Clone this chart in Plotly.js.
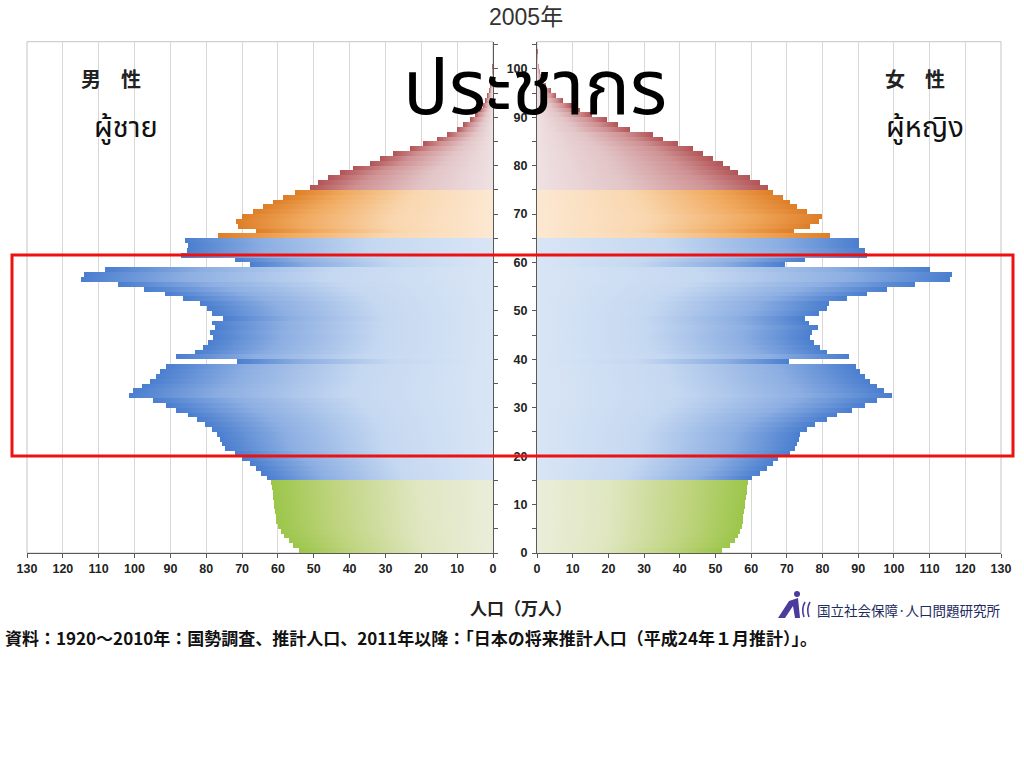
<!DOCTYPE html>
<html><head><meta charset="utf-8">
<script src="https://cdn.plot.ly/plotly-3.0.1.min.js"></script>
<style>html,body{margin:0;padding:0;background:#fff;overflow:hidden}#chart{width:1024px;height:768px}
#chart path.js-fill{shape-rendering:crispEdges}</style>
</head><body><div id="chart"></div>
<script>
// ---------- data (population, 10,000 persons, Japan 2005) ----------
const ages = [0,1,2,3,4,5,6,7,8,9,10,11,12,13,14,15,16,17,18,19,20,21,22,23,24,25,26,27,28,29,30,31,32,33,34,35,36,37,38,39,40,41,42,43,44,45,46,47,48,49,50,51,52,53,54,55,56,57,58,59,60,61,62,63,64,65,66,67,68,69,70,71,72,73,74,75,76,77,78,79,80,81,82,83,84,85,86,87,88,89,90,91,92,93,94,95,96,97,98,99,100,101,102,103,104,105];
const male = [54.0,55.8,57.0,58.3,59.2,60.0,60.4,60.6,60.8,61.0,61.1,61.3,61.5,61.6,61.8,
  63.0,64.6,66.0,67.8,70.1,72.0,74.8,75.5,76.2,77.1,78.5,80.4,82.7,85.0,88.3,
  91.1,94.8,101.5,100.4,98.0,95.7,93.9,92.9,91.1,71.5,88.5,83.2,80.9,79.5,78.1,
  79.0,77.6,78.5,75.3,78.5,79.9,81.8,86.5,91.5,97.3,104.6,114.8,114.2,108.3,67.8,
  72.0,87.0,85.5,85.0,86.0,76.7,66.0,71.1,71.6,70.1,66.9,64.1,61.3,58.5,55.3,
  51.1,48.8,46.0,42.7,39.0,34.3,31.5,27.8,23.2,19.5,15.7,12.9,10.1,8.3,6.4,
  5.0,3.8,2.9,2.2,1.6,1.1,0.8,0.5,0.35,0.2,0.15,0.1,0.05,0.03,0.02,0.01];
const female = [51.7,54.1,55.5,56.4,56.9,57.4,57.8,57.8,58.0,58.3,58.3,58.5,58.8,58.8,59.2,
  60.2,62.5,64.4,66.2,67.6,71.0,72.3,72.8,73.3,73.7,75.6,77.9,81.2,84.0,88.2,
  92.0,95.3,99.5,97.1,95.3,93.4,92.0,90.6,89.4,70.5,87.3,81.2,79.3,77.5,76.5,
  77.0,78.6,76.1,75.1,78.9,81.2,81.7,86.8,92.4,98.1,106.0,115.8,116.3,110.2,69.5,
  75.1,92.4,92.0,90.1,90.1,82.1,71.9,76.5,78.9,79.8,75.6,72.8,70.9,69.0,66.2,
  64.8,62.5,59.7,56.4,54.1,52.2,49.4,46.6,43.8,39.6,35.4,32.6,26.0,22.7,19.5,
  15.3,12.0,9.7,7.3,5.4,4.0,2.6,1.9,1.3,0.9,0.6,0.4,0.25,0.15,0.1,0.05];
const groupStartAges = [0, 15, 65, 75];
const xTickVals = [0,10,20,30,40,50,60,70,80,90,100,110,120,130];

// ---------- styles ----------
const groupScales = [
  [[0,'#eaeed9'],[0.35,'#dfe6c0'],[0.72,'#bfd47f'],[1,'#9cc64a']],
  [[0,'#d8e5f5'],[0.4,'#c5d8f1'],[0.75,'#8caee2'],[1,'#4a7ecf']],
  [[0,'#fce8d2'],[0.4,'#f9d6ae'],[0.75,'#f0a95e'],[1,'#de7e27']],
  [[0,'#efe1e3'],[0.4,'#e2c4c6'],[0.75,'#cf9193'],[1,'#b25456']]
];
const reversedScale = s => s.map(([p,c]) => [1-p, c]).reverse();
function groupOf(a){ let g=0; for(let i=0;i<groupStartAges.length;i++){ if(a>=groupStartAges[i]) g=i; } return g; }

const traces = [];
function addBar(v, a, xa, ya, flip){
  const sc = groupScales[groupOf(a)];
  traces.push({type:'scatter', x:[0,v,v,0,0], y:[a,a,a+1,a+1,a], xaxis:xa, yaxis:ya,
    mode:'lines', line:{width:0,color:'rgba(0,0,0,0)'}, fill:'toself',
    fillgradient:{type:'horizontal', colorscale: flip ? reversedScale(sc) : sc},
    hoverinfo:'skip', showlegend:false});
}
ages.forEach((a,i)=>{ addBar(male[i], a, 'x', 'y', true); addBar(female[i], a, 'x2', 'y2', false); });

const P = x => x/1024, Q = y => 1 - y/768;
const yDom = [Q(553), Q(41.7)];
const yRange = [0, 105.6];
const axFont = {family:'Liberation Sans, Arial, sans-serif', size:12.5, color:'#222', weight:'bold'};
const common = {showgrid:true, gridcolor:'#d8d8d8', gridwidth:1, zeroline:false, showline:true,
  linecolor:'#5a5a5a', linewidth:1, ticks:'outside', ticklen:4, tickcolor:'#5a5a5a',
  tickvals:xTickVals, tickfont:axFont, fixedrange:true};
const yCommon = {range:yRange, domain:yDom, showgrid:false, zeroline:false, showline:true,
  linecolor:'#5a5a5a', linewidth:1, ticks:'outside', ticklen:4, tickcolor:'#5a5a5a',
  tick0:0, dtick:10, minor:{dtick:5, ticks:'outside', ticklen:4, tickcolor:'#5a5a5a'}, fixedrange:true};

const thai = 'Noto Sans Thai, Tahoma, DejaVu Sans, sans-serif';
const jp = 'Noto Sans CJK JP, sans-serif';
function ann(text,x,y,size,opts){ return Object.assign({text, x:P(x), y:Q(y), xref:'paper', yref:'paper',
  showarrow:false, xanchor:'center', yanchor:'middle', font:{size, color:'#222', family:jp}}, opts||{}); }

const layout = {
  width:1024, height:768, margin:{l:0,r:0,t:0,b:0}, paper_bgcolor:'#fff', plot_bgcolor:'rgba(0,0,0,0)',
  showlegend:false,
  xaxis: Object.assign({}, common, {domain:[P(27),P(493)], range:[130,0], anchor:'y'}),
  yaxis: Object.assign({}, yCommon, {anchor:'x', side:'right', showticklabels:false}),
  xaxis2: Object.assign({}, common, {domain:[P(537),P(1001)], range:[0,130], anchor:'y2'}),
  yaxis2: Object.assign({}, yCommon, {anchor:'x2', side:'left', showticklabels:true, tickfont:axFont, ticklabelstandoff:2}),
  shapes:[
    {type:'rect', xref:'x domain', yref:'y domain', x0:0,x1:1,y0:0,y1:1, line:{color:'#c4c4c4',width:1}, layer:'below'},
    {type:'rect', xref:'x2 domain', yref:'y2 domain', x0:0,x1:1,y0:0,y1:1, line:{color:'#c4c4c4',width:1}, layer:'below'},
    {type:'rect', xref:'paper', yref:'paper', x0:P(12), x1:P(1013), y0:Q(456), y1:Q(255), line:{color:'#ee1111',width:3}},
    {type:'circle', xref:'paper', yref:'paper', x0:P(794), x1:P(800), y0:Q(597), y1:Q(591), fillcolor:'#4b3c9c', line:{width:0}},
    {type:'path', xref:'paper', yref:'paper', fillcolor:'#4b3c9c', line:{width:0},
      path:`M ${P(778)} ${Q(618)} L ${P(789)} ${Q(601)} L ${P(798)} ${Q(598)} L ${P(800)} ${Q(618)} L ${P(795)} ${Q(618)} L ${P(793)} ${Q(606)} L ${P(785)} ${Q(618)} Z`},
    {type:'path', xref:'paper', yref:'paper', line:{color:'#4b3c9c',width:1.6},
      path:`M ${P(805)} ${Q(602)} Q ${P(801)} ${Q(609)} ${P(804)} ${Q(617)}`},
    {type:'path', xref:'paper', yref:'paper', line:{color:'#4b3c9c',width:1.6},
      path:`M ${P(810)} ${Q(602)} Q ${P(806)} ${Q(609)} ${P(809)} ${Q(617)}`}
  ],
  annotations:[
    ann('2005年', 526, 17, 23, {font:{size:23,color:'#333',family:'Liberation Sans, Noto Sans CJK JP, sans-serif'}}),
    ann('<b>男　性</b>', 111, 78, 20),
    ann('<b>女　性</b>', 915, 78, 20),
    ann('ผู้ชาย', 126, 128, 29, {font:{size:29,color:'#111',family:thai}}),
    ann('ผู้หญิง', 925, 128, 29, {font:{size:29,color:'#111',family:thai}}),
    ann('ประชากร', 535, 90, 76, {font:{size:76,color:'#000',family:thai}}),
    ann('<b>人口（万人）</b>', 521, 607, 17, {font:{size:17,color:'#222',family:jp}}),
    ann('国立社会保障·人口問題研究所', 815, 610, 13.5, {xanchor:'left', font:{size:13.5,color:'#1e2a60',family:jp}}),
    ann('<b>資料：1920～2010年：国勢調査、推計人口、2011年以降：「日本の将来推計人口（平成24年１月推計）」。</b>', 3, 637, 17, {xanchor:'left', font:{size:17,color:'#111',family:jp}})
  ]
};
Plotly.newPlot('chart', traces, layout, {staticPlot:true, displayModeBar:false});
</script></body></html>
